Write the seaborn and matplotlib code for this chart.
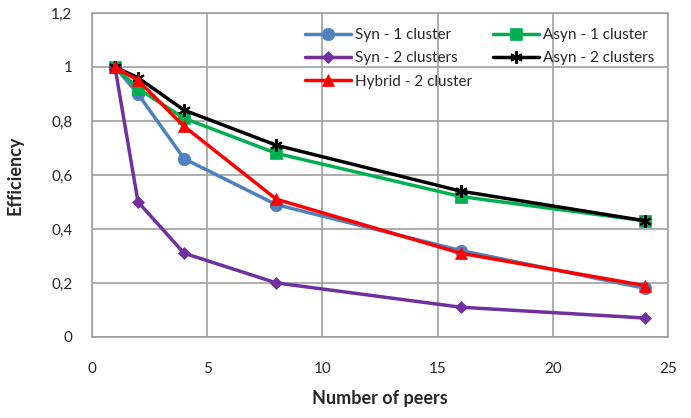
import matplotlib
matplotlib.use("Agg")
import matplotlib.pyplot as plt
import seaborn as sns
import pandas as pd

peers = [1, 2, 4, 8, 16, 24]
syn1 = [1.0, 0.90, 0.66, 0.49, 0.32, 0.18]
asyn1 = [1.0, 0.92, 0.81, 0.68, 0.52, 0.43]
syn2 = [1.0, 0.50, 0.31, 0.20, 0.11, 0.07]
asyn2 = [1.0, 0.96, 0.84, 0.71, 0.54, 0.43]
hybrid = [1.0, 0.95, 0.78, 0.51, 0.31, 0.19]

series_names = ["Syn - 1 cluster", "Syn - 2 clusters", "Hybrid - 2 cluster",
                "Asyn - 1 cluster", "Asyn - 2 clusters"]
series_vals = [syn1, syn2, hybrid, asyn1, asyn2]
colors = ["#4F81BD", "#7030A0", "#FF0000", "#00B050", "#000000"]
markers = ["o", "D", "^", "s", (6, 2, 0)]
msizes = [9, 6, 9, 8, 9]

yticks = [0, 0.2, 0.4, 0.6, 0.8, 1.0, 1.2]
ylabels = ["0", "0,2", "0,4", "0,6", "0,8", "1", "1,2"]
xticks = [0, 5, 10, 15, 20, 25]

rows = []
for name, vals in zip(series_names, series_vals):
    for x, v in zip(peers, vals):
        rows.append({"peers": x, "eff": v, "series": name})
df = pd.DataFrame(rows)

sns.set_style("white")
plt.rcParams["font.family"] = ["Lato", "DejaVu Sans"]

fig = plt.figure(figsize=(6.91, 4.18), dpi=100)
ax = fig.add_axes([0.133, 0.194, 0.834, 0.775])

draw_order = ["Syn - 1 cluster", "Asyn - 1 cluster", "Syn - 2 clusters",
              "Asyn - 2 clusters", "Hybrid - 2 cluster"]
for name in draw_order:
    i = series_names.index(name)
    sub = df[df["series"] == name]
    star = not isinstance(markers[i], str)
    sns.lineplot(data=sub, x="peers", y="eff", ax=ax, color=colors[i],
                 marker=markers[i], markersize=msizes[i], linewidth=2.5,
                 markeredgecolor=colors[i], markeredgewidth=1.5 if star else 0.5,
                 label=name, legend=False)

ax.set_xlim(0, 25)
ax.set_ylim(0, 1.2)
ax.set_xticks(xticks)
ax.set_xticklabels([str(t) for t in xticks])
ax.set_yticks(yticks)
ax.set_yticklabels(ylabels)
ax.grid(True, color="#A0A0A0", linewidth=1.2)
for s in ax.spines.values():
    s.set_color("#A0A0A0")
    s.set_linewidth(1.2)
ax.tick_params(axis="both", labelsize=11, length=0)
ax.tick_params(axis="x", pad=18)
ax.tick_params(axis="y", pad=14)
ax.set_xlabel("Number of peers", fontsize=13, fontweight="bold", labelpad=10)
ax.set_ylabel("Efficiency", fontsize=13, fontweight="bold", labelpad=20)

handles, labels = ax.get_legend_handles_labels()
hmap = dict(zip(labels, handles))
ax.legend([hmap[n] for n in series_names], series_names, ncol=2, frameon=False,
          loc="upper right", bbox_to_anchor=(1.0, 0.995), fontsize=11,
          handlelength=3, columnspacing=1.4, labelspacing=0.6, handletextpad=0.25)

fig.savefig("out.png", dpi=100)
